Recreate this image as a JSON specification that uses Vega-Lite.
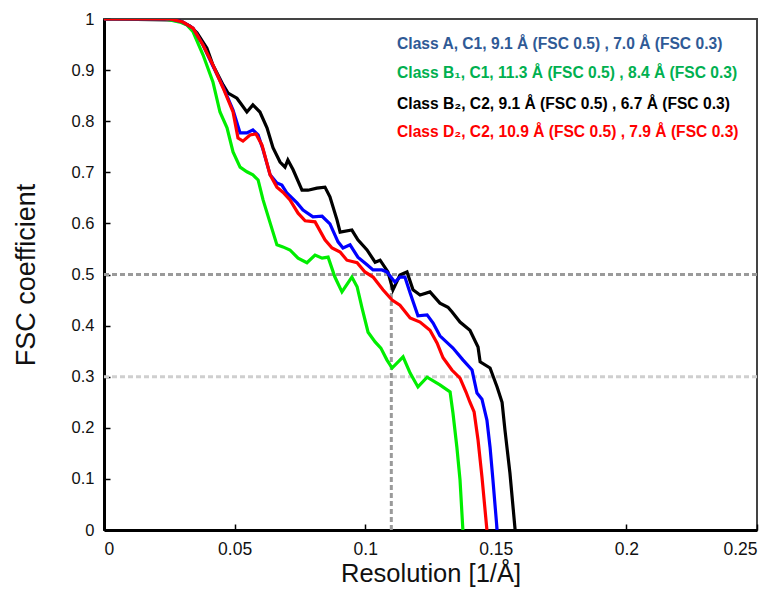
{
  "$schema": "https://vega.github.io/schema/vega-lite/v6.json",
  "width": 653,
  "height": 511,
  "autosize": "none",
  "padding": {"left": 104, "top": 19, "right": 18, "bottom": 62},
  "background": "white",
  "config": {
    "view": {"stroke": "#444", "strokeWidth": 2},
    "font": "Liberation Sans",
    "axis": {
      "grid": false,
      "domainColor": "black",
      "domainWidth": 3,
      "tickColor": "black",
      "tickWidth": 1.5,
      "tickSize": -6,
      "labelFont": "Liberation Sans",
      "labelFontSize": 16.5,
      "labelColor": "#111",
      "titleFont": "Liberation Sans",
      "titleFontWeight": "normal",
      "titleColor": "#111"
    }
  },
  "datasets": {
    "fsc": [
      {"s": "B2", "x": 0, "y": 1.0},
      {"s": "B2", "x": 0.0253, "y": 0.998},
      {"s": "B2", "x": 0.0291, "y": 0.996},
      {"s": "B2", "x": 0.0329, "y": 0.986},
      {"s": "B2", "x": 0.0356, "y": 0.973},
      {"s": "B2", "x": 0.0394, "y": 0.943},
      {"s": "B2", "x": 0.0417, "y": 0.910},
      {"s": "B2", "x": 0.0456, "y": 0.871},
      {"s": "B2", "x": 0.0475, "y": 0.855},
      {"s": "B2", "x": 0.0509, "y": 0.845},
      {"s": "B2", "x": 0.0547, "y": 0.818},
      {"s": "B2", "x": 0.0570, "y": 0.832},
      {"s": "B2", "x": 0.0597, "y": 0.818},
      {"s": "B2", "x": 0.0624, "y": 0.787},
      {"s": "B2", "x": 0.0647, "y": 0.748},
      {"s": "B2", "x": 0.0674, "y": 0.720},
      {"s": "B2", "x": 0.0693, "y": 0.710},
      {"s": "B2", "x": 0.0704, "y": 0.724},
      {"s": "B2", "x": 0.0724, "y": 0.705},
      {"s": "B2", "x": 0.0758, "y": 0.665},
      {"s": "B2", "x": 0.0781, "y": 0.665},
      {"s": "B2", "x": 0.0815, "y": 0.669},
      {"s": "B2", "x": 0.0846, "y": 0.671},
      {"s": "B2", "x": 0.0865, "y": 0.652},
      {"s": "B2", "x": 0.0892, "y": 0.607},
      {"s": "B2", "x": 0.0904, "y": 0.583},
      {"s": "B2", "x": 0.0949, "y": 0.587},
      {"s": "B2", "x": 0.0972, "y": 0.568},
      {"s": "B2", "x": 0.1007, "y": 0.548},
      {"s": "B2", "x": 0.1038, "y": 0.524},
      {"s": "B2", "x": 0.1057, "y": 0.528},
      {"s": "B2", "x": 0.1087, "y": 0.505},
      {"s": "B2", "x": 0.1106, "y": 0.470},
      {"s": "B2", "x": 0.1133, "y": 0.499},
      {"s": "B2", "x": 0.1160, "y": 0.505},
      {"s": "B2", "x": 0.1183, "y": 0.470},
      {"s": "B2", "x": 0.1210, "y": 0.460},
      {"s": "B2", "x": 0.1248, "y": 0.466},
      {"s": "B2", "x": 0.1286, "y": 0.444},
      {"s": "B2", "x": 0.1317, "y": 0.436},
      {"s": "B2", "x": 0.1332, "y": 0.427},
      {"s": "B2", "x": 0.1363, "y": 0.407},
      {"s": "B2", "x": 0.1401, "y": 0.391},
      {"s": "B2", "x": 0.1432, "y": 0.358},
      {"s": "B2", "x": 0.1440, "y": 0.329},
      {"s": "B2", "x": 0.1478, "y": 0.317},
      {"s": "B2", "x": 0.1505, "y": 0.280},
      {"s": "B2", "x": 0.1524, "y": 0.250},
      {"s": "B2", "x": 0.1535, "y": 0.196},
      {"s": "B2", "x": 0.1554, "y": 0.112},
      {"s": "B2", "x": 0.1574, "y": 0.0},

      {"s": "B1", "x": 0, "y": 1.0},
      {"s": "B1", "x": 0.0234, "y": 1.0},
      {"s": "B1", "x": 0.0291, "y": 0.994},
      {"s": "B1", "x": 0.0318, "y": 0.988},
      {"s": "B1", "x": 0.0341, "y": 0.975},
      {"s": "B1", "x": 0.0379, "y": 0.930},
      {"s": "B1", "x": 0.0417, "y": 0.877},
      {"s": "B1", "x": 0.0444, "y": 0.818},
      {"s": "B1", "x": 0.0471, "y": 0.787},
      {"s": "B1", "x": 0.0494, "y": 0.740},
      {"s": "B1", "x": 0.0521, "y": 0.710},
      {"s": "B1", "x": 0.0547, "y": 0.701},
      {"s": "B1", "x": 0.0570, "y": 0.695},
      {"s": "B1", "x": 0.0590, "y": 0.685},
      {"s": "B1", "x": 0.0609, "y": 0.646},
      {"s": "B1", "x": 0.0636, "y": 0.601},
      {"s": "B1", "x": 0.0662, "y": 0.558},
      {"s": "B1", "x": 0.0685, "y": 0.554},
      {"s": "B1", "x": 0.0712, "y": 0.548},
      {"s": "B1", "x": 0.0743, "y": 0.532},
      {"s": "B1", "x": 0.0777, "y": 0.523},
      {"s": "B1", "x": 0.0808, "y": 0.538},
      {"s": "B1", "x": 0.0835, "y": 0.532},
      {"s": "B1", "x": 0.0858, "y": 0.534},
      {"s": "B1", "x": 0.0884, "y": 0.495},
      {"s": "B1", "x": 0.0911, "y": 0.466},
      {"s": "B1", "x": 0.0949, "y": 0.495},
      {"s": "B1", "x": 0.0969, "y": 0.476},
      {"s": "B1", "x": 0.0988, "y": 0.434},
      {"s": "B1", "x": 0.1011, "y": 0.387},
      {"s": "B1", "x": 0.1038, "y": 0.368},
      {"s": "B1", "x": 0.1060, "y": 0.356},
      {"s": "B1", "x": 0.1083, "y": 0.333},
      {"s": "B1", "x": 0.1103, "y": 0.317},
      {"s": "B1", "x": 0.1145, "y": 0.339},
      {"s": "B1", "x": 0.1172, "y": 0.307},
      {"s": "B1", "x": 0.1202, "y": 0.280},
      {"s": "B1", "x": 0.1237, "y": 0.299},
      {"s": "B1", "x": 0.1286, "y": 0.284},
      {"s": "B1", "x": 0.1325, "y": 0.270},
      {"s": "B1", "x": 0.1336, "y": 0.229},
      {"s": "B1", "x": 0.1351, "y": 0.162},
      {"s": "B1", "x": 0.1363, "y": 0.098},
      {"s": "B1", "x": 0.1374, "y": 0.0},

      {"s": "A", "x": 0, "y": 1.0},
      {"s": "A", "x": 0.0253, "y": 1.0},
      {"s": "A", "x": 0.0302, "y": 0.994},
      {"s": "A", "x": 0.0341, "y": 0.982},
      {"s": "A", "x": 0.0379, "y": 0.949},
      {"s": "A", "x": 0.0417, "y": 0.908},
      {"s": "A", "x": 0.0456, "y": 0.867},
      {"s": "A", "x": 0.0494, "y": 0.822},
      {"s": "A", "x": 0.0521, "y": 0.777},
      {"s": "A", "x": 0.0547, "y": 0.777},
      {"s": "A", "x": 0.0570, "y": 0.783},
      {"s": "A", "x": 0.0590, "y": 0.773},
      {"s": "A", "x": 0.0609, "y": 0.744},
      {"s": "A", "x": 0.0636, "y": 0.695},
      {"s": "A", "x": 0.0662, "y": 0.679},
      {"s": "A", "x": 0.0681, "y": 0.675},
      {"s": "A", "x": 0.0701, "y": 0.659},
      {"s": "A", "x": 0.0739, "y": 0.640},
      {"s": "A", "x": 0.0762, "y": 0.626},
      {"s": "A", "x": 0.0800, "y": 0.613},
      {"s": "A", "x": 0.0835, "y": 0.614},
      {"s": "A", "x": 0.0865, "y": 0.599},
      {"s": "A", "x": 0.0896, "y": 0.564},
      {"s": "A", "x": 0.0915, "y": 0.552},
      {"s": "A", "x": 0.0942, "y": 0.558},
      {"s": "A", "x": 0.0972, "y": 0.534},
      {"s": "A", "x": 0.1007, "y": 0.519},
      {"s": "A", "x": 0.1030, "y": 0.509},
      {"s": "A", "x": 0.1064, "y": 0.509},
      {"s": "A", "x": 0.1083, "y": 0.505},
      {"s": "A", "x": 0.1114, "y": 0.485},
      {"s": "A", "x": 0.1133, "y": 0.495},
      {"s": "A", "x": 0.1152, "y": 0.495},
      {"s": "A", "x": 0.1172, "y": 0.464},
      {"s": "A", "x": 0.1202, "y": 0.419},
      {"s": "A", "x": 0.1237, "y": 0.421},
      {"s": "A", "x": 0.1260, "y": 0.405},
      {"s": "A", "x": 0.1286, "y": 0.380},
      {"s": "A", "x": 0.1336, "y": 0.356},
      {"s": "A", "x": 0.1374, "y": 0.333},
      {"s": "A", "x": 0.1409, "y": 0.313},
      {"s": "A", "x": 0.1428, "y": 0.268},
      {"s": "A", "x": 0.1447, "y": 0.256},
      {"s": "A", "x": 0.1466, "y": 0.215},
      {"s": "A", "x": 0.1478, "y": 0.162},
      {"s": "A", "x": 0.1489, "y": 0.098},
      {"s": "A", "x": 0.1505, "y": 0.0},

      {"s": "D2", "x": 0, "y": 1.0},
      {"s": "D2", "x": 0.0253, "y": 1.0},
      {"s": "D2", "x": 0.0302, "y": 0.994},
      {"s": "D2", "x": 0.0341, "y": 0.982},
      {"s": "D2", "x": 0.0379, "y": 0.949},
      {"s": "D2", "x": 0.0417, "y": 0.910},
      {"s": "D2", "x": 0.0456, "y": 0.865},
      {"s": "D2", "x": 0.0494, "y": 0.818},
      {"s": "D2", "x": 0.0513, "y": 0.767},
      {"s": "D2", "x": 0.0532, "y": 0.761},
      {"s": "D2", "x": 0.0559, "y": 0.773},
      {"s": "D2", "x": 0.0582, "y": 0.775},
      {"s": "D2", "x": 0.0605, "y": 0.753},
      {"s": "D2", "x": 0.0636, "y": 0.695},
      {"s": "D2", "x": 0.0662, "y": 0.671},
      {"s": "D2", "x": 0.0685, "y": 0.661},
      {"s": "D2", "x": 0.0712, "y": 0.646},
      {"s": "D2", "x": 0.0743, "y": 0.620},
      {"s": "D2", "x": 0.0770, "y": 0.605},
      {"s": "D2", "x": 0.0808, "y": 0.603},
      {"s": "D2", "x": 0.0846, "y": 0.568},
      {"s": "D2", "x": 0.0873, "y": 0.552},
      {"s": "D2", "x": 0.0904, "y": 0.544},
      {"s": "D2", "x": 0.0930, "y": 0.528},
      {"s": "D2", "x": 0.0969, "y": 0.523},
      {"s": "D2", "x": 0.0999, "y": 0.505},
      {"s": "D2", "x": 0.1030, "y": 0.495},
      {"s": "D2", "x": 0.1068, "y": 0.470},
      {"s": "D2", "x": 0.1103, "y": 0.450},
      {"s": "D2", "x": 0.1133, "y": 0.440},
      {"s": "D2", "x": 0.1172, "y": 0.415},
      {"s": "D2", "x": 0.1210, "y": 0.407},
      {"s": "D2", "x": 0.1248, "y": 0.391},
      {"s": "D2", "x": 0.1275, "y": 0.366},
      {"s": "D2", "x": 0.1298, "y": 0.337},
      {"s": "D2", "x": 0.1332, "y": 0.313},
      {"s": "D2", "x": 0.1363, "y": 0.297},
      {"s": "D2", "x": 0.1386, "y": 0.270},
      {"s": "D2", "x": 0.1401, "y": 0.250},
      {"s": "D2", "x": 0.1417, "y": 0.231},
      {"s": "D2", "x": 0.1432, "y": 0.176},
      {"s": "D2", "x": 0.1447, "y": 0.104},
      {"s": "D2", "x": 0.1466, "y": 0.0}
    ],
    "hrules": [
      {"y": 0.5, "c": "#9a9a9a"},
      {"y": 0.3, "c": "#cfcfcf"}
    ],
    "vrule": [
      {"x": 0.11, "y": 0, "y2": 0.5}
    ],
    "labels": [
      {"x": 0.1122, "y": 0.951, "t": "Class A, C1, 9.1 Å (FSC 0.5) , 7.0 Å (FSC 0.3)", "c": "#2f5a96"},
      {"x": 0.1122, "y": 0.894, "t": "Class B₁, C1, 11.3 Å (FSC 0.5) , 8.4 Å (FSC 0.3)", "c": "#00b050"},
      {"x": 0.1122, "y": 0.834, "t": "Class B₂, C2, 9.1 Å (FSC 0.5) , 6.7 Å (FSC 0.3)", "c": "#000000"},
      {"x": 0.1122, "y": 0.779, "t": "Class D₂, C2, 10.9 Å (FSC 0.5) , 7.9 Å (FSC 0.3)", "c": "#ff0000"}
    ]
  },
  "layer": [
    {
      "data": {"name": "hrules"},
      "mark": {"type": "rule", "strokeWidth": 3, "strokeDash": [5, 3]},
      "encoding": {
        "y": {"field": "y", "type": "quantitative", "scale": {"domain": [0, 1]}},
        "color": {"field": "c", "type": "nominal", "scale": null, "legend": null}
      }
    },
    {
      "data": {"name": "vrule"},
      "mark": {"type": "rule", "strokeWidth": 3, "strokeDash": [5, 3], "color": "#9a9a9a"},
      "encoding": {
        "x": {"field": "x", "type": "quantitative"},
        "y": {"field": "y", "type": "quantitative"},
        "y2": {"field": "y2"}
      }
    },
    {
      "data": {"name": "fsc"},
      "mark": {"type": "line", "strokeWidth": 3.2, "clip": true},
      "encoding": {
        "x": {
          "field": "x", "type": "quantitative",
          "scale": {"domain": [0, 0.25], "nice": false},
          "axis": {"values": [0, 0.05, 0.1, 0.15, 0.2, 0.25], "format": "~g", "title": "Resolution [1/Å]", "titleFontSize": 25.5, "titlePadding": 4, "labelPadding": 16, "labelFontSize": 17.5}
        },
        "y": {
          "field": "y", "type": "quantitative",
          "scale": {"domain": [0, 1], "nice": false},
          "axis": {"values": [0, 0.1, 0.2, 0.3, 0.4, 0.5, 0.6, 0.7, 0.8, 0.9, 1], "format": "~g", "title": "FSC coefficient", "titleFontSize": 27, "titlePadding": 31, "labelPadding": 16}
        },
        "color": {
          "field": "s", "type": "nominal",
          "scale": {"domain": ["A", "B1", "B2", "D2"], "range": ["#0000ff", "#00ee00", "#000000", "#ff0000"]},
          "legend": null
        },
        "order": {"field": "x", "type": "quantitative"}
      }
    },
    {
      "data": {"name": "labels"},
      "mark": {"type": "text", "align": "left", "baseline": "middle", "fontSize": 15.6, "fontWeight": "bold", "font": "Liberation Sans"},
      "encoding": {
        "x": {"field": "x", "type": "quantitative"},
        "y": {"field": "y", "type": "quantitative"},
        "text": {"field": "t"},
        "color": {"field": "c", "type": "nominal", "scale": null, "legend": null}
      }
    }
  ]
}
